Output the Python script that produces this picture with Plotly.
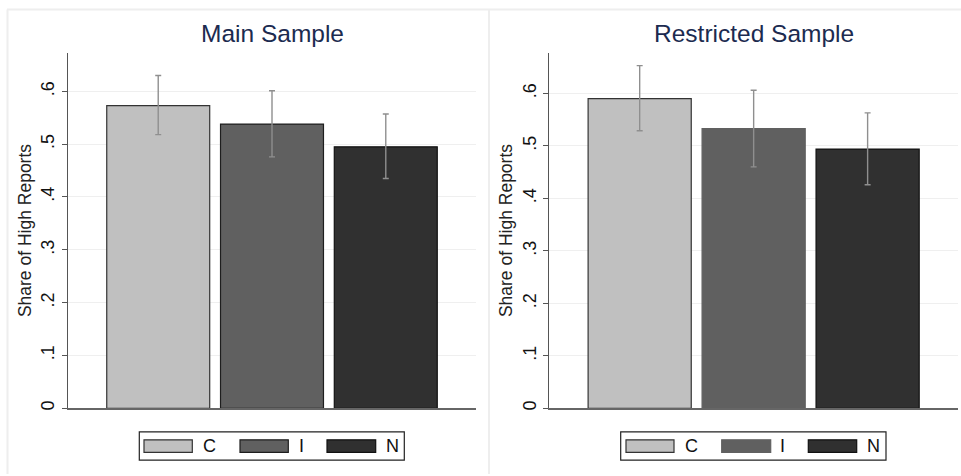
import plotly.graph_objects as go

W, H = 961, 476

categories = ["C", "I", "N"]
panel_titles = ["Main Sample", "Restricted Sample"]
main_share = [0.573, 0.538, 0.495]
main_ci_low = [0.518, 0.476, 0.435]
main_ci_high = [0.630, 0.601, 0.557]
restr_share = [0.590, 0.533, 0.494]
restr_ci_low = [0.529, 0.460, 0.426]
restr_ci_high = [0.653, 0.606, 0.563]
tick_vals = [0, 0.1, 0.2, 0.3, 0.4, 0.5, 0.6]
tick_text = ["0", ".1", ".2", ".3", ".4", ".5", ".6"]
y_title = "Share of High Reports"

fill_colors = ["#c0c0c0", "#606060", "#303030"]
edge_colors = [["#333333", "#1e1e1e", "#111111"], ["#333333", "#606060", "#111111"]]
FONT = "Liberation Sans, Arial, sans-serif"


def px(x):
    return x / W


def py(y):
    return 1 - y / H


panels = [
    dict(vals=main_share, lo=main_ci_low, hi=main_ci_high, xa="x", ya="y",
         xdom=[px(68), px(476)], yr=[0, 0.673]),
    dict(vals=restr_share, lo=restr_ci_low, hi=restr_ci_high, xa="x2", ya="y2",
         xdom=[px(549.3), px(958)], yr=[0, 0.6775]),
]

fig = go.Figure()
for pi, p in enumerate(panels):
    for i, cat in enumerate(categories):
        fig.add_trace(go.Bar(
            x=[cat], y=[p["vals"][i]], name=cat, width=0.905,
            xaxis=p["xa"], yaxis=p["ya"], showlegend=False, hoverinfo="skip",
            marker=dict(color=fill_colors[i],
                        line=dict(color=edge_colors[pi][i], width=1.2)),
            error_y=dict(type="data", symmetric=False,
                         array=[p["hi"][i] - p["vals"][i]],
                         arrayminus=[p["vals"][i] - p["lo"][i]],
                         color="#8f8f8f", thickness=1.4, width=3),
        ))

ydom = [py(410), py(53)]
axis_common_y = dict(
    domain=ydom, tickvals=tick_vals, ticktext=tick_text, tickangle=-90,
    ticks="outside", ticklen=5, tickwidth=1, tickcolor="#555555",
    tickfont=dict(family=FONT, size=18, color="#111111"),
    showgrid=True, gridcolor="#efefef", gridwidth=1, zeroline=False,
    showline=True, linecolor="#555555", linewidth=1.5,
    title=dict(text=y_title, font=dict(family=FONT, size=17.5, color="#222222"), standoff=2),
    fixedrange=True,
)
axis_common_x = dict(
    type="category", categoryorder="array", categoryarray=categories,
    range=[-0.793, 2.793], showticklabels=False, ticks="", showgrid=False,
    zeroline=False, showline=True, linecolor="#666666", linewidth=1.5, fixedrange=True,
)

fig.update_layout(
    width=W, height=H, margin=dict(l=0, r=0, t=0, b=0),
    paper_bgcolor="white", plot_bgcolor="white", barmode="overlay",
    showlegend=False,
    xaxis=dict(domain=panels[0]["xdom"], anchor="y", **axis_common_x),
    yaxis=dict(range=panels[0]["yr"], anchor="x", **axis_common_y),
    xaxis2=dict(domain=panels[1]["xdom"], anchor="y2", **axis_common_x),
    yaxis2=dict(range=panels[1]["yr"], anchor="x2", **axis_common_y),
    font=dict(family=FONT),
)

shapes = []
annotations = []
border = "#eeeeee"
# panel frames
shapes.append(dict(type="line", xref="paper", yref="paper", x0=px(7), x1=1, y0=py(9.5), y1=py(9.5),
                   line=dict(color=border, width=2)))
shapes.append(dict(type="line", xref="paper", yref="paper", x0=px(7.5), x1=px(7.5), y0=0, y1=py(9.5),
                   line=dict(color=border, width=2)))
shapes.append(dict(type="line", xref="paper", yref="paper", x0=px(489), x1=px(489), y0=0, y1=py(9.5),
                   line=dict(color=border, width=2)))

# titles
for cx, t in zip([272, 753.5], panel_titles):
    annotations.append(dict(text=t, xref="paper", yref="paper", x=px(cx), y=py(34),
                            xanchor="center", yanchor="middle", showarrow=False,
                            font=dict(family=FONT, size=24.5, color="#1c2b50")))

# legends (drawn as boxes)
legend_specs = [
    dict(box=[139.3, 404.3], rects=[[144, 192.3], [240, 288.3], [327, 375.7]],
         labels=[209.5, 301, 392], edges=edge_colors[0]),
    dict(box=[620.7, 886], rects=[[626, 674], [721.7, 770.7], [808.3, 856.7]],
         labels=[691, 782.7, 873.5], edges=edge_colors[1]),
]
for spec in legend_specs:
    shapes.append(dict(type="rect", xref="paper", yref="paper",
                       x0=px(spec["box"][0]), x1=px(spec["box"][1]), y0=py(462), y1=py(433.7),
                       line=dict(color="#222222", width=1.2), fillcolor="white"))
    for i, cat in enumerate(categories):
        r = spec["rects"][i]
        shapes.append(dict(type="rect", xref="paper", yref="paper",
                           x0=px(r[0]), x1=px(r[1]), y0=py(454.3), y1=py(441.7),
                           line=dict(color=spec["edges"][i], width=1.2), fillcolor=fill_colors[i]))
        annotations.append(dict(text=cat, xref="paper", yref="paper", x=px(spec["labels"][i]), y=py(448),
                                xanchor="center", yanchor="middle", showarrow=False,
                                font=dict(family=FONT, size=18, color="#111111")))

fig.update_layout(shapes=shapes, annotations=annotations)
fig.write_html("out.html", config={"displayModeBar": False, "staticPlot": True},
               post_script="document.body.style.margin='0';document.body.style.overflow='hidden';")
